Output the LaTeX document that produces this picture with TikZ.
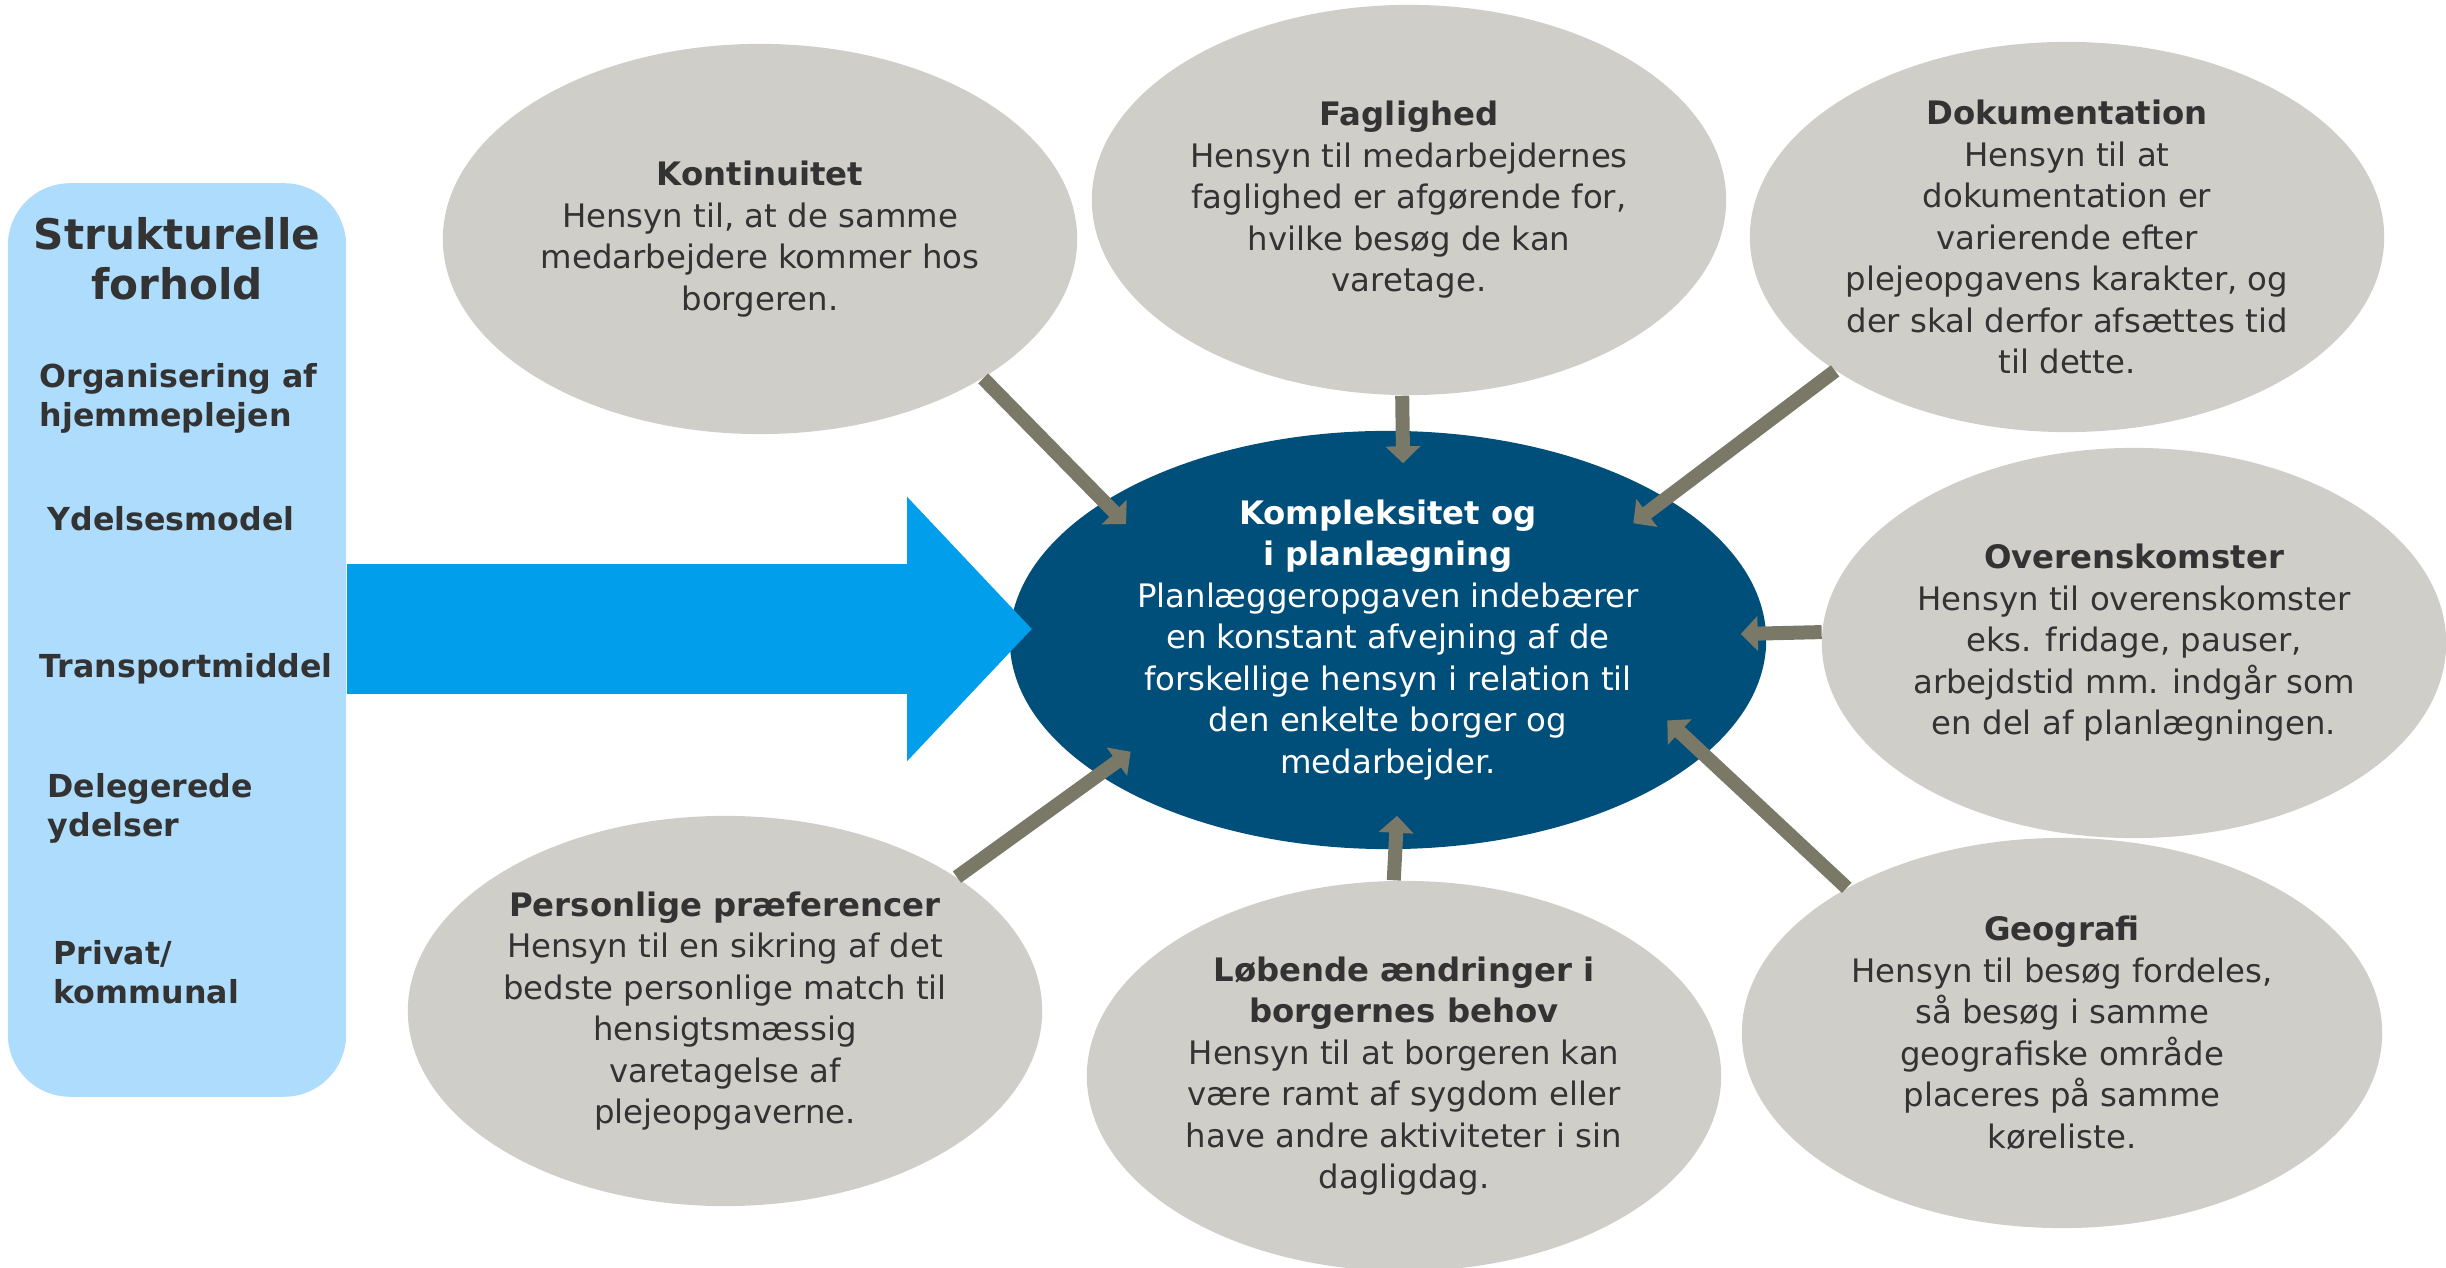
\documentclass[tikz,border=0pt]{standalone}
\usepackage{fontspec}
\setmainfont{DejaVu Sans}
\usepackage{tikz}
\usetikzlibrary{arrows.meta}
\usetikzlibrary{shapes}

\definecolor{panelblue}{RGB}{173,220,252}
\definecolor{arrowblue}{RGB}{0,158,235}
\definecolor{coreblue}{RGB}{0,78,122}
\definecolor{bubblegray}{RGB}{208,206,201}
\definecolor{linkgray}{RGB}{122,121,104}
\definecolor{textgray}{RGB}{51,51,51}

\begin{document}
\begin{tikzpicture}
      [x=0.01cm, y=-0.01cm,
        bubble/.style={ellipse, fill=bubblegray, minimum width=6.34cm, minimum height=3.9cm, inner sep=0pt},
        bubbletxt/.style={align=center, text=textgray, inner sep=0pt, font=\fontsize{9.2}{11.8}\selectfont},
        sideitem/.style={anchor=west, align=left, text=textgray, inner sep=0pt, font=\fontsize{9}{11.1}\selectfont\bfseries},
        link/.style={draw=linkgray, line width=0.14cm, -{Triangle[width=0.34cm, length=0.17cm]}},
        bigarrow/.style={draw=arrowblue, line width=1.3cm, -{Triangle[width=2.57cm, length=1.25cm]}}]
  \useasboundingbox (0,0) rectangle (2446,1268);

  % left panel
  \node[fill=panelblue, rounded corners=0.62cm, minimum width=3.38cm, minimum height=9.13cm, inner sep=0pt] (panel) at (177,640) {};
  \node[align=center, text=textgray, inner sep=0pt, font=\fontsize{12}{14.2}\selectfont\bfseries] (panel-title) at (177,259) {Strukturelle\\forhold};
  \node[sideitem] (org) at (39,398) {Organisering af\\hjemmeplejen};
  \node[sideitem] (ydel) at (47,519) {Ydelsesmodel};
  \node[sideitem] (trans) at (39,669) {Transportmiddel};
  \node[sideitem] (deleg) at (47,808) {Delegerede\\ydelser};
  \node[sideitem] (priv) at (53,972) {Privat/\\kommunal};

  % centre and bubbles
  \node[ellipse, fill=coreblue, minimum width=7.56cm, minimum height=4.18cm, inner sep=0pt] (core) at (1388,640) {};
  \node[bubble] (kont) at (760,239) {};
  \node[bubble] (fagl) at (1409,200) {};
  \node[bubble] (doku) at (2067,237) {};
  \node[bubble, minimum width=6.24cm] (over) at (2134,643) {};
  \node[bubble, minimum width=6.4cm] (geo) at (2062,1033) {};
  \node[bubble] (lob) at (1404,1076) {};
  \node[bubble] (pers) at (725,1011) {};

  % arrows
  \draw[bigarrow, shorten >=-0.23cm] ([yshift=0.11cm]panel.east) -- ([yshift=0.11cm]core.west);
  \draw[link, shorten >=-0.32cm] (kont.-32.5) -- (core.154.8);
  \draw[link, shorten >=-0.33cm] (fagl.-92) -- (core.86.6);
  \draw[link, shorten >=-0.42cm] (doku.-150.4) -- (core.27.2);
  \draw[link, shorten >=-0.26cm] (over.178) -- (core.1.2);
  \draw[link, shorten >=-0.51cm] (geo.146.7) -- (core.-20.3);
  \draw[link, shorten >=-0.34cm] (lob.93) -- (core.-88.7);
  \draw[link, shorten >=-0.40cm] (pers.30) -- (core.-155.7);

  % texts
  \node[bubbletxt, text=white] (core-txt) at (core) {\textbf{Kompleksitet og}\\\textbf{i planlægning}\\Planlæggeropgaven indebærer\\en konstant afvejning af de\\forskellige hensyn i relation til\\den enkelte borger og\\medarbejder.};
  \node[bubbletxt] (kont-txt) at (kont) {\textbf{Kontinuitet}\\Hensyn til, at de samme\\medarbejdere kommer hos\\borgeren.};
  \node[bubbletxt] (fagl-txt) at (fagl) {\textbf{Faglighed}\\Hensyn til medarbejdernes\\faglighed er afgørende for,\\hvilke besøg de kan\\varetage.};
  \node[bubbletxt] (doku-txt) at (doku) {\textbf{Dokumentation}\\Hensyn til at\\dokumentation er\\varierende efter\\plejeopgavens karakter, og\\der skal derfor afsættes tid\\til dette.};
  \node[bubbletxt] (over-txt) at (over) {\textbf{Overenskomster}\\Hensyn til overenskomster\\eks. fridage, pauser,\\arbejdstid mm. indgår som\\en del af planlægningen.};
  \node[bubbletxt] (geo-txt) at (geo) {\textbf{Geografi}\\Hensyn til besøg fordeles,\\så besøg i samme\\geografiske område\\placeres på samme\\køreliste.};
  \node[bubbletxt] (lob-txt) at (lob) {\textbf{Løbende ændringer i}\\\textbf{borgernes behov}\\Hensyn til at borgeren kan\\være ramt af sygdom eller\\have andre aktiviteter i sin\\dagligdag.};
  \node[bubbletxt] (pers-txt) at (pers) {\textbf{Personlige præferencer}\\Hensyn til en sikring af det\\bedste personlige match til\\hensigtsmæssig\\varetagelse af\\plejeopgaverne.};
\end{tikzpicture}
\end{document}
